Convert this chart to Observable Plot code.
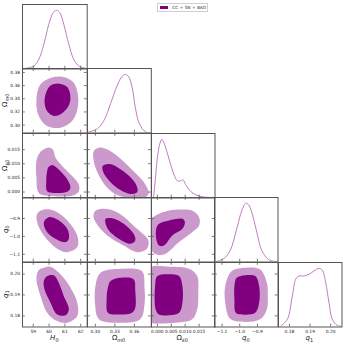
<!DOCTYPE html>
<html><head><meta charset="utf-8">
<script src="https://cdn.jsdelivr.net/npm/d3@7"></script>
<script src="https://cdn.jsdelivr.net/npm/@observablehq/plot@0.6"></script>
<style>
body{margin:0;background:#fff;font-family:"DejaVu Sans",sans-serif;}
#root{position:relative;width:345px;height:345px;overflow:hidden;background:#fff;}
.panel{position:absolute;}
.lab{position:absolute;font-size:7px;line-height:7px;white-space:nowrap;color:#222;font-family:"DejaVu Sans",sans-serif;}
.lab sub{font-size:5px;vertical-align:-1.5px;}
.lab i{font-style:italic;}
.legend{position:absolute;border:0.7px solid #cfcfcf;background:#fff;box-sizing:border-box;}
.legend .sw{position:absolute;left:1.7px;top:1.6px;width:8.3px;height:3.4px;background:#800080;}
.legend .tx{position:absolute;left:14px;top:1.2px;font-size:4.3px;line-height:5px;color:#333;white-space:nowrap;}
</style></head><body><div id="root"></div>
<script>
// ---------- parameters ----------
const names = ["H0", "Om", "Ok", "q0", "q1"];
const H0_domain = [58.32, 62.41];
const Om_domain = [0.288, 0.386];
const Ok_domain = [-0.0021, 0.0207];
const q0_domain = [-1.143, -0.783];
const q1_domain = [0.1747, 0.2055];

const H0_ticks = [59, 60, 61, 62];
const Om_xticks = [0.30, 0.33, 0.36];
const Om_yticks = [0.30, 0.32, 0.34, 0.36, 0.38];
const Ok_ticks = [0.000, 0.005, 0.010, 0.015];
const q0_ticks = [-1.1, -1.0, -0.9];
const q1_ticks = [0.18, 0.19, 0.20];

// ---------- 1D marginals (normalised to peak 1) ----------
const H0_grid = [58.40, 59.03, 59.35, 59.67, 59.98, 60.26, 60.47, 60.68, 60.93, 61.25, 61.56, 61.88, 62.41];
const H0_pdf  = [0.005, 0.05, 0.165, 0.42, 0.76, 0.96, 1.0, 0.96, 0.76, 0.42, 0.165, 0.05, 0.005];
const Om_grid = [0.2880, 0.3032, 0.3134, 0.3234, 0.3336, 0.3412, 0.3462, 0.3514, 0.3564, 0.3614, 0.3666, 0.3742, 0.3803, 0.3860];
const Om_pdf  = [0.01, 0.073, 0.217, 0.50, 0.81, 0.967, 1.0, 0.955, 0.785, 0.44, 0.19, 0.046, 0.005, 0.0];
const Ok_grid = [-0.0014, -0.0008, 0.0000, 0.0008, 0.0016, 0.0024, 0.0036, 0.0048, 0.0060, 0.0072, 0.0084, 0.0092, 0.0102, 0.0120, 0.0138, 0.0161, 0.0203];
const Ok_pdf  = [0.0, 0.28, 0.68, 0.91, 1.0, 0.935, 0.764, 0.566, 0.396, 0.293, 0.293, 0.31, 0.225, 0.111, 0.055, 0.02, 0.008];
const q0_grid = [-1.139, -1.092, -1.054, -1.017, -0.988, -0.966, -0.950, -0.932, -0.903, -0.875, -0.837, -0.790];
const q0_pdf  = [0.003, 0.055, 0.196, 0.566, 0.878, 1.0, 0.976, 0.85, 0.508, 0.196, 0.043, 0.003];
const q1_grid = [0.1758, 0.1790, 0.1814, 0.1830, 0.1846, 0.1871, 0.1895, 0.1919, 0.1943, 0.1959, 0.1976, 0.1992, 0.2008, 0.2032, 0.2054];
const q1_pdf  = [0.017, 0.131, 0.529, 0.813, 0.87, 0.87, 0.899, 0.955, 1.0, 0.972, 0.755, 0.414, 0.131, 0.029, 0.012];

// ---------- 2D contours (68% inner, 95% outer) ----------
const H0_Om_outer = [[59.20,0.339],[59.46,0.362],[60.15,0.372],[60.91,0.373],[61.54,0.365],[61.83,0.345],[61.80,0.325],[61.48,0.307],[60.72,0.296],[59.84,0.299],[59.33,0.315]];
const H0_Om_inner = [[59.71,0.336],[59.84,0.351],[60.09,0.360],[60.61,0.363],[61.15,0.358],[61.35,0.343],[61.25,0.330],[60.83,0.318],[60.30,0.314],[59.88,0.321]];

const H0_Ok_outer = [[60.05,0.0157],[60.26,0.0149],[60.41,0.0121],[60.93,0.0086],[61.46,0.0057],[61.88,0.0027],[61.88,0.0003],[61.56,-0.0011],[60.09,-0.0014],[59.35,-0.0003],[59.20,0.0051],[59.20,0.0110],[59.41,0.0139],[59.67,0.0151]];
const H0_Ok_inner = [[60.20,0.0096],[60.61,0.0080],[61.15,0.0045],[61.35,0.0015],[61.15,0.0001],[60.30,-0.0003],[59.88,0.0003],[59.82,0.0039],[59.88,0.0074],[59.98,0.0089]];

const Om_Ok_outer = [[0.2976,0.0145],[0.3052,0.0157],[0.3173,0.0152],[0.3356,0.0124],[0.3584,0.0074],[0.3766,0.0028],[0.3819,-0.0004],[0.3766,-0.0018],[0.3538,-0.0020],[0.3341,-0.0011],[0.3173,0.0018],[0.3052,0.0060],[0.2976,0.0110]];
const Om_Ok_inner = [[0.3113,0.0092],[0.3219,0.0099],[0.3386,0.0081],[0.3538,0.0053],[0.3629,0.0025],[0.3645,0.0000],[0.3538,-0.0007],[0.3386,0.0007],[0.3234,0.0035],[0.3128,0.0067]];

const H0_q0_outer = [[59.25,-0.874],[59.67,-0.850],[60.30,-0.856],[61.15,-0.911],[61.78,-0.995],[61.78,-1.060],[61.15,-1.088],[60.51,-1.069],[59.67,-0.995],[59.25,-0.921]];
const H0_q0_inner = [[59.98,-0.893],[60.51,-0.906],[61.15,-0.958],[61.25,-1.013],[61.04,-1.032],[60.61,-1.023],[59.88,-0.977],[59.67,-0.921]];

const Om_q0_outer = [[0.3006,-0.856],[0.3132,-0.846],[0.3336,-0.865],[0.3640,-0.958],[0.3816,-1.023],[0.3792,-1.069],[0.3640,-1.088],[0.3436,-1.051],[0.3184,-0.995],[0.3006,-0.921],[0.2971,-0.883]];
const Om_q0_inner = [[0.3158,-0.902],[0.3260,-0.899],[0.3436,-0.930],[0.3588,-0.986],[0.3614,-1.023],[0.3538,-1.041],[0.3360,-1.013],[0.3208,-0.967],[0.3158,-0.930]];

const Ok_q0_outer = [[-0.0006,-0.883],[0.0042,-0.856],[0.0090,-0.850],[0.0125,-0.856],[0.0150,-0.893],[0.0150,-0.939],[0.0125,-0.977],[0.0078,-1.032],[0.0030,-1.097],[0.0000,-1.103],[-0.0024,-1.069],[-0.0024,-0.958],[-0.0020,-0.902]];
const Ok_q0_inner = [[0.0006,-0.930],[0.0042,-0.911],[0.0090,-0.902],[0.0099,-0.921],[0.0090,-0.958],[0.0054,-0.995],[0.0024,-1.051],[0.0006,-1.051],[-0.0004,-1.013],[-0.0004,-0.958]];

const H0_q1_outer = [[59.67,0.2030],[60.09,0.2035],[60.72,0.1999],[61.35,0.1935],[61.78,0.1863],[61.78,0.1799],[61.15,0.1767],[60.51,0.1775],[59.88,0.1815],[59.46,0.1895],[59.20,0.1975],[59.35,0.2019]];
const H0_q1_inner = [[59.88,0.1990],[60.30,0.1994],[60.61,0.1958],[60.93,0.1895],[61.25,0.1831],[61.04,0.1803],[60.51,0.1807],[60.09,0.1863],[59.71,0.1927],[59.67,0.1967]];

const Om_q1_outer = [[0.3082,0.2006],[0.3386,0.2025],[0.3716,0.2014],[0.3756,0.1935],[0.3756,0.1855],[0.3690,0.1784],[0.3336,0.1767],[0.3056,0.1784],[0.2996,0.1855],[0.3006,0.1951]];
const Om_q1_inner = [[0.3234,0.1967],[0.3386,0.1982],[0.3588,0.1975],[0.3614,0.1919],[0.3614,0.1839],[0.3564,0.1815],[0.3360,0.1807],[0.3193,0.1815],[0.3173,0.1871],[0.3193,0.1935]];

const Ok_q1_outer = [[-0.0025,0.2030],[0.0042,0.2035],[0.0114,0.2025],[0.0143,0.1990],[0.0147,0.1911],[0.0143,0.1831],[0.0125,0.1784],[0.0066,0.1767],[0.0006,0.1764],[-0.0025,0.1771],[-0.0027,0.1900]];
const Ok_q1_inner = [[0.0000,0.1990],[0.0042,0.1999],[0.0078,0.1990],[0.0090,0.1943],[0.0090,0.1863],[0.0078,0.1815],[0.0042,0.1803],[0.0006,0.1807],[-0.0006,0.1831],[-0.0008,0.1943]];

const q0_q1_outer = [[-1.045,0.2014],[-0.969,0.2030],[-0.884,0.2022],[-0.846,0.1958],[-0.841,0.1895],[-0.846,0.1831],[-0.884,0.1784],[-0.969,0.1771],[-1.054,0.1786],[-1.082,0.1863],[-1.082,0.1943]];
const q0_q1_inner = [[-1.017,0.1982],[-0.969,0.1994],[-0.912,0.1990],[-0.890,0.1943],[-0.890,0.1863],[-0.912,0.1815],[-0.969,0.1806],[-1.022,0.1815],[-1.030,0.1879],[-1.030,0.1943]];

// ---------- lookups ----------
const domains = {H0: H0_domain, Om: Om_domain, Ok: Ok_domain, q0: q0_domain, q1: q1_domain};
const xticks = {H0: H0_ticks, Om: Om_xticks, Ok: Ok_ticks, q0: q0_ticks, q1: q1_ticks};
const yticks = {H0: H0_ticks, Om: Om_yticks, Ok: Ok_ticks, q0: q0_ticks, q1: q1_ticks};
const fmts = {H0: d3.format("d"), Om: d3.format(".2f"), Ok: d3.format(".3f"), q0: d3.format(".1f"), q1: d3.format(".2f")};
const pdfs = {H0: [H0_grid, H0_pdf], Om: [Om_grid, Om_pdf], Ok: [Ok_grid, Ok_pdf], q0: [q0_grid, q0_pdf], q1: [q1_grid, q1_pdf]};
const contours = {
  "H0-Om": [H0_Om_outer, H0_Om_inner],
  "H0-Ok": [H0_Ok_outer, H0_Ok_inner],
  "Om-Ok": [Om_Ok_outer, Om_Ok_inner],
  "H0-q0": [H0_q0_outer, H0_q0_inner],
  "Om-q0": [Om_q0_outer, Om_q0_inner],
  "Ok-q0": [Ok_q0_outer, Ok_q0_inner],
  "H0-q1": [H0_q1_outer, H0_q1_inner],
  "Om-q1": [Om_q1_outer, Om_q1_inner],
  "Ok-q1": [Ok_q1_outer, Ok_q1_inner],
  "q0-q1": [q0_q1_outer, q0_q1_inner]
};

// ---------- layout & style ----------
const LEFT = [22, 86.7, 150.5, 214, 277.5];
const WID = [64.7, 63.8, 63.5, 63.5, 63.5];
const TOP = [3.5, 68, 132.5, 197, 261.5];
const HGT = 64.5;
const DARK = "#800080", LIGHT = "#cc99cc", LINE = "#c27ac2", FRAME = "#555";
const TL = 2.8, TICKFS = 4.4;

const root = document.getElementById("root");

function makePanel(i, j) {
  const xn = names[i], yn = names[j];
  const w = WID[i], h = HGT;
  const marks = [];
  let ydom;
  if (i === j) {
    ydom = [0, 1.1];
    const [g, p] = pdfs[xn];
    marks.push(Plot.line(g.map((x, k) => ({x, y: p[k]})), {x: "x", y: "y", stroke: LINE, strokeWidth: 1, curve: "catmull-rom", clip: true}));
  } else {
    ydom = domains[yn];
    const [outer, inner] = contours[xn + "-" + yn];
    marks.push(Plot.line(outer, {x: d => d[0], y: d => d[1], curve: "catmull-rom-closed", fill: LIGHT, stroke: "none", clip: true}));
    marks.push(Plot.line(inner, {x: d => d[0], y: d => d[1], curve: "catmull-rom-closed", fill: DARK, stroke: "none", clip: true}));
    marks.push(Plot.tickY(yticks[yn], {y: d => d, insetRight: w - TL, stroke: FRAME, strokeWidth: 0.8}));
    marks.push(Plot.tickY(yticks[yn], {y: d => d, insetLeft: w - TL, stroke: FRAME, strokeWidth: 0.8}));
  }
  marks.push(Plot.tickX(xticks[xn], {x: d => d, insetTop: h - TL, stroke: FRAME, strokeWidth: 0.8}));
  if (i !== j) marks.push(Plot.tickX(xticks[xn], {x: d => d, insetBottom: h - TL, stroke: FRAME, strokeWidth: 0.8}));
  marks.push(Plot.frame({stroke: FRAME, strokeWidth: 1}));
  const hasX = j === 4, hasY = i === 0 && j > 0;
  if (hasX) marks.push(Plot.axisX({ticks: xticks[xn], tickFormat: fmts[xn], tickSize: 0, tickPadding: 3, fontSize: TICKFS, label: null, anchor: "bottom", fill: "#222"}));
  if (hasY) marks.push(Plot.axisY({ticks: yticks[yn], tickFormat: fmts[yn], tickSize: 0, tickPadding: 2.5, fontSize: TICKFS, label: null, anchor: "left", fill: "#222"}));
  const xOpt = {domain: domains[xn]};
  const yOpt = {domain: ydom};
  if (!hasX) xOpt.axis = null;
  if (!hasY) yOpt.axis = null;
  const svg = Plot.plot({
    width: w, height: h, margin: 0,
    x: xOpt, y: yOpt,
    style: {overflow: "visible", background: "transparent", fontFamily: "DejaVu Sans, sans-serif"},
    marks
  });
  const div = document.createElement("div");
  div.className = "panel";
  div.style.left = LEFT[i] + "px";
  div.style.top = TOP[j] + "px";
  div.appendChild(svg);
  root.appendChild(div);
}

for (let j = 0; j < 5; j++) for (let i = 0; i <= j; i++) makePanel(i, j);

// ---------- axis titles ----------
const titles = {
  H0: '<i>H</i><sub>0</sub>',
  Om: 'Ω<sub><i>m</i>0</sub>',
  Ok: 'Ω<sub><i>k</i>0</sub>',
  q0: '<i>q</i><sub>0</sub>',
  q1: '<i>q</i><sub>1</sub>'
};
names.forEach((n, i) => {
  const d = document.createElement("div");
  d.className = "lab";
  d.innerHTML = titles[n];
  root.appendChild(d);
  const r = d.getBoundingClientRect();
  d.style.left = (LEFT[i] + WID[i] / 2 - r.width / 2) + "px";
  d.style.top = (334.5) + "px";
});
names.slice(1).forEach((n, k) => {
  const j = k + 1;
  const d = document.createElement("div");
  d.className = "lab";
  d.innerHTML = titles[n];
  root.appendChild(d);
  const r = d.getBoundingClientRect();
  const cy = TOP[j] + HGT / 2;
  d.style.left = (7 - r.width / 2) + "px";
  d.style.top = (cy - r.height / 2) + "px";
  d.style.transform = "rotate(-90deg)";
});

// ---------- legend ----------
const lg = document.createElement("div");
lg.className = "legend";
lg.style.left = "157.3px"; lg.style.top = "3.3px"; lg.style.width = "50.5px"; lg.style.height = "8.5px";
lg.innerHTML = '<div class="sw"></div><div class="tx">CC + SN + BAO</div>';
root.appendChild(lg);
</script></body></html>
